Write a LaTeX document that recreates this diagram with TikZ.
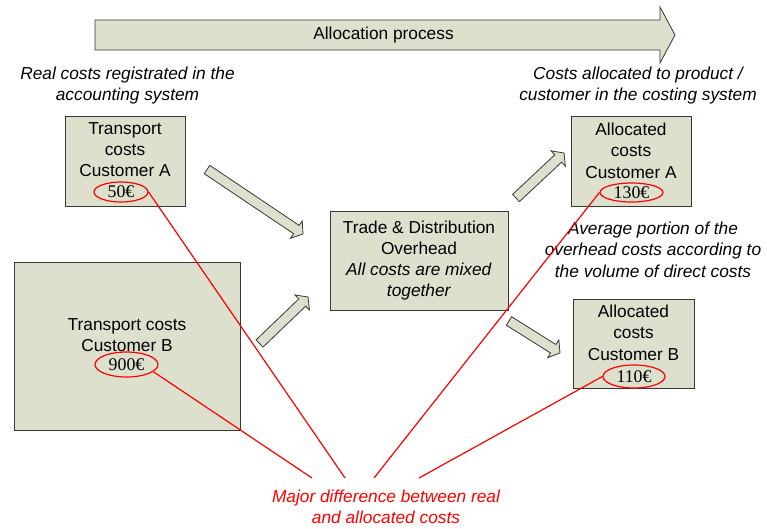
\documentclass[tikz,border=0pt]{standalone}
\usepackage{fontspec}
\setmainfont{Liberation Sans}
\newfontfamily\serifnum{Liberation Serif}
\usetikzlibrary{calc,shapes.geometric}
\definecolor{boxfill}{RGB}{221,224,204}
\definecolor{boxline}{RGB}{55,55,55}
\tikzset{
  box/.style={draw=boxline, fill=boxfill, line width=0.9pt, inner sep=0pt},
  txt/.style={font=\fontsize{17.3}{21.2}\selectfont, align=center, inner sep=0pt},
  itxt/.style={txt, font=\fontsize{17.3}{21.2}\selectfont\itshape},
  redtxt/.style={itxt, text=red},
  euro/.style={ellipse, draw=red, line width=1.2pt, inner sep=0pt,
    font=\fontsize{17.8}{21.2}\selectfont\serifnum},
  redline/.style={draw=red, line width=1.2pt},
  fatarrowstyle/.style={draw=boxline, fill=boxfill, line width=0.8pt, line join=miter}
}
\newcommand{\fatarrow}[2]{%
  \coordinate (fa-h) at ($(#2)!8pt!(#1)$);
  \filldraw[fatarrowstyle] ($(#1)!5pt!90:(#2)$) -- ($(fa-h)!5pt!-90:(#1)$)
    -- ($(fa-h)!10.5pt!-90:(#1)$) -- (#2) -- ($(fa-h)!10.5pt!90:(#1)$)
    -- ($(fa-h)!5pt!90:(#1)$) -- ($(#1)!5pt!-90:(#2)$) -- cycle;}
\begin{document}
\begin{tikzpicture}[x=1pt,y=-1pt]
\useasboundingbox (0,0) rectangle (767,528);

% big process arrow
\filldraw[fatarrowstyle] (95,20) -- (660,20) -- (660,7) -- (675,35) -- (660,63) -- (660,50) -- (95,50) -- cycle;
\node[txt] (alloc) at (383.5,35) {Allocation process};

% annotations
\node[itxt, anchor=north] (real) at (127.5,67) {Real costs registrated in the\\accounting system};
\node[itxt, anchor=north] (costsalloc) at (638,67) {Costs allocated to product /\\customer in the costing system};
\node[itxt, anchor=north] (avg) at (653,222) {Average portion of the\\overhead costs according to\\the volume of direct costs};
\node[redtxt, anchor=north] (major) at (386,489.5) {Major difference between real\\and allocated costs};

% boxes
\node[box, minimum width=120pt, minimum height=90pt] (tA) at (125,161) {};
\node[txt, anchor=north] (tAt) at (125,122) {Transport\\costs\\Customer A};
\node[euro, minimum width=54pt, minimum height=20pt] (e50) at (121,192) {50€};

\node[box, minimum width=226pt, minimum height=168pt] (tB) at (127,346) {};
\node[txt, anchor=north] (tBt) at (127,318) {Transport costs\\Customer B};
\node[euro, minimum width=63pt, minimum height=25pt] (e900) at (126.5,364.5) {900€};

\node[box, txt, minimum width=178pt, minimum height=99pt] (td) at (419,260.5)
  {Trade \& Distribution\\Overhead\\\textit{All costs are mixed}\\\textit{together}};

\node[box, minimum width=120pt, minimum height=90pt] (aA) at (631,161) {};
\node[txt, anchor=north] (aAt) at (631,123) {Allocated\\costs\\Customer A};
\node[euro, minimum width=63pt, minimum height=19pt] (e130) at (631.5,192.5) {130€};

\node[box, minimum width=121pt, minimum height=89pt] (aB) at (633.5,343.5) {};
\node[txt, anchor=north] (aBt) at (633.5,305) {Allocated\\costs\\Customer B};
\node[euro, minimum width=62pt, minimum height=23pt] (e110) at (634,376.5) {110€};

% fat arrows
\coordinate (a1s) at (207,169.5);
\coordinate (a1e) at (303,234);
\coordinate (a2s) at (259.5,343.5);
\coordinate (a2e) at (308,297);
\coordinate (a3s) at (516,198);
\coordinate (a3e) at (564,153);
\coordinate (a4s) at (509,321);
\coordinate (a4e) at (560,353);
\fatarrow{a1s}{a1e}
\fatarrow{a2s}{a2e}
\fatarrow{a3s}{a3e}
\fatarrow{a4s}{a4e}

% red connectors
\coordinate (m1) at (312,478);
\coordinate (m2) at (345,478);
\coordinate (m3) at (374,478);
\coordinate (m4) at (419,478);
\draw[redline] (e900.-15) -- (m1);
\draw[redline] (e50.east) -- (m2);
\draw[redline] (e130.west) -- (m3);
\draw[redline] (e110.west) -- (m4);
\end{tikzpicture}
\end{document}
